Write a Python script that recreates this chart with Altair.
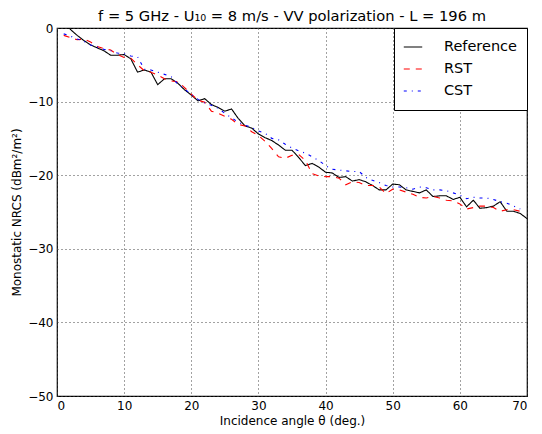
import altair as alt
import pandas as pd

angles = list(range(1, 71))

reference = [1.2, -0.2, -1.0, -1.7, -2.3, -2.7, -3.1, -3.7, -3.7, -3.6,
             -4.2, -6.0, -5.7, -6.0, -7.7, -6.9, -6.9, -7.5, -8.4, -9.1,
             -9.9, -9.6, -10.4, -10.8, -11.3, -11.0, -12.3, -13.3, -13.6, -14.4,
             -14.9, -15.3, -15.9, -16.6, -16.6, -17.6, -18.7, -18.4, -18.9, -19.6,
             -19.7, -20.3, -20.2, -20.8, -20.6, -20.9, -21.4, -22.0, -22.0, -21.2,
             -21.3, -22.0, -22.2, -22.4, -22.0, -22.9, -22.8, -22.8, -23.3, -23.0,
             -24.3, -23.4, -24.5, -24.4, -24.2, -23.6, -24.9, -24.9, -25.2, -25.9]

rst = [-1.0, -1.3, -1.6, -1.5, -1.9, -2.5, -2.8, -3.0, -3.6, -4.0,
       -4.1, -5.0, -5.8, -6.0, -6.4, -6.9, -7.2, -7.3, -8.1, -9.0,
       -9.8, -10.1, -11.3, -11.6, -12.0, -12.4, -13.1, -13.3, -14.1, -14.6,
       -15.4, -16.4, -17.5, -17.7, -17.3, -17.2, -18.0, -19.8, -20.1, -20.2,
       -20.2, -20.4, -21.3, -20.9, -21.0, -21.4, -21.4, -21.6, -22.5, -21.9,
       -22.0, -22.3, -22.6, -23.0, -23.1, -22.9, -23.1, -23.4, -23.5, -23.9,
       -24.6, -24.4, -24.2, -24.2, -24.4, -24.9, -24.7, -24.7, -24.9]

cst = [-0.8, -1.1, -1.5, -1.8, -2.3, -2.6, -2.9, -3.1, -3.4, -3.5,
       -3.8, -3.9, -5.6, -5.7, -6.0, -6.3, -6.6, -7.6, -8.3, -9.0,
       -9.7, -10.2, -10.5, -10.9, -11.6, -12.2, -12.8, -13.2, -13.5, -14.0,
       -14.3, -15.0, -15.2, -15.8, -16.3, -16.7, -17.0, -17.5, -18.0, -18.7,
       -19.2, -19.3, -19.4, -19.5, -19.5, -20.3, -20.7, -21.0, -21.4, -21.6,
       -21.6, -21.7, -21.9, -21.6, -21.7, -22.0, -22.0, -22.1, -22.4, -22.7,
       -23.2, -23.0, -23.1, -23.1, -23.3, -23.6, -23.8, -24.2, -24.6]

series_names = ["Reference", "RST", "CST"]
series_colors = ["#000000", "#ff0000", "#0000ff"]
series_dashes = [[1, 0], [6, 6], [3, 5, 1, 5]]

x_ticks = [0, 10, 20, 30, 40, 50, 60, 70]
y_ticks = [0, -10, -20, -30, -40, -50]

rows = []
for name, vals in zip(series_names, [reference, rst, cst]):
    for a, v in zip(angles, vals):
        rows.append({"angle": a, "nrcs": v, "series": name})
df = pd.DataFrame(rows)

FONT = "DejaVu Sans"

chart = alt.Chart(df).mark_line(strokeWidth=1.1, clip=True).encode(
    x=alt.X("angle:Q",
            scale=alt.Scale(domain=[0, 70], nice=False),
            axis=alt.Axis(values=x_ticks, title="Incidence angle θ (deg.)",
                          format="d", labelPadding=4, titlePadding=4)),
    y=alt.Y("nrcs:Q",
            scale=alt.Scale(domain=[-50, 0], nice=False),
            axis=alt.Axis(values=y_ticks, title="Monostatic NRCS (dBm²/m²)",
                          format="d", labelPadding=4, titlePadding=4)),
    color=alt.Color("series:N",
                    scale=alt.Scale(domain=series_names, range=series_colors),
                    sort=series_names, title=None),
    strokeDash=alt.StrokeDash("series:N",
                              scale=alt.Scale(domain=series_names, range=series_dashes),
                              sort=series_names, title=None),
    order=alt.Order("angle:Q"),
).properties(
    width=470,
    height=368,
    title=alt.TitleParams("f = 5 GHz - U₁₀ = 8 m/s - VV polarization - L = 196 m",
                          fontSize=14.7, fontWeight="normal", font=FONT,
                          anchor="middle", offset=-2, color="#000"),
    autosize=alt.AutoSizeParams(type="none"),
    padding={"left": 49, "top": 20, "right": 7, "bottom": 32},
).configure_view(
    stroke="#000", strokeWidth=1.2
).configure_axis(
    labelFont=FONT, titleFont=FONT, labelFontSize=12, titleFontSize=12,
    labelColor="#000", titleColor="#000", titleFontWeight="normal",
    grid=True, gridColor="#444", gridDash=[1, 3], gridWidth=1,
    ticks=False, domain=False,
).configure_legend(
    orient="none", legendX=337, legendY=0,
    strokeColor="#000", fillColor="#fff", padding=9,
    labelFont=FONT, labelFontSize=14.5, labelColor="#000",
    symbolType="stroke", symbolSize=340, symbolStrokeWidth=1.2,
    labelOffset=21, rowPadding=2, clipHeight=20, cornerRadius=0,
    labelLimit=200,
)

chart.save("out.html", embed_options={"renderer": "svg", "actions": False})
